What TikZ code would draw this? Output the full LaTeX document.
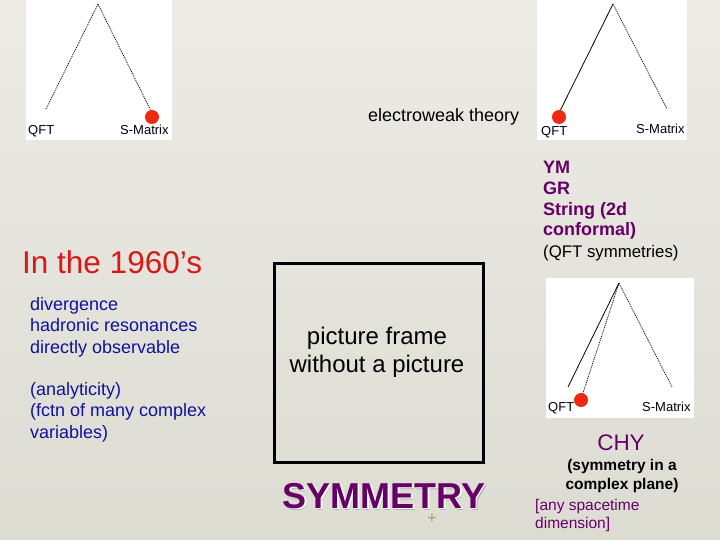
\documentclass[tikz,border=0pt]{standalone}
\usepackage{fontspec}
\setmainfont{Liberation Sans}
\usetikzlibrary{positioning,calc}
\definecolor{Plum}{HTML}{660066}
\definecolor{Navy}{HTML}{11119C}
\definecolor{Title}{HTML}{D81818}
\definecolor{Dot}{HTML}{F02A10}
\definecolor{BgTop}{HTML}{ECECE5}
\definecolor{BgBot}{HTML}{DCDCD3}
\begin{document}
\begin{tikzpicture}[x=1pt,y=-1pt,
    panel/.style={fill=white,draw=none},
    leg/.style={draw=black,line width=0.8pt},
    dotleg/.style={draw=black,line width=0.8pt,dash pattern=on 1pt off 1pt},
    hit/.style={circle,fill=Dot,inner sep=0pt,minimum size=14pt},
    lbl/.style={anchor=base west,inner sep=0pt,font=\fontsize{13}{14}\selectfont},
    txt/.style={anchor=base west,inner sep=0pt,align=left}]
    \useasboundingbox (0,0) rectangle (720,540);
    \shade[top color=BgTop,bottom color=BgBot] (0,0) rectangle (720,540);
    % panel 1: S-Matrix side
    \fill[panel] (26,0) rectangle (172,140);
    \coordinate (p1top) at (98,4);
    \coordinate (p1l) at (46,109);
    \coordinate (p1r) at (152,113);
    \draw[dotleg] (p1l)--(p1top)--(p1r);
    \node[hit] (p1dot) at (152,117) {};
    \node[lbl] (p1qft) at (28,135) {QFT};
    \node[lbl] (p1sm) at (120,135) {S-Matrix};
    % panel 2: QFT side
    \fill[panel] (537,0) rectangle (687,140);
    \coordinate (p2top) at (613,4);
    \coordinate (p2l) at (559,113);
    \coordinate (p2r) at (667,109);
    \draw[leg] (p2l)--(p2top);
    \draw[dotleg] (p2top)--(p2r);
    \node[hit] (p2dot) at (559,117) {};
    \node[lbl] (p2qft) at (541,136) {QFT};
    \node[lbl] (p2sm) at (636,134) {S-Matrix};
    % panel 3: CHY
    \fill[panel] (546,278) rectangle (694,418);
    \coordinate (p3top) at (619,283);
    \coordinate (p3l) at (568,387);
    \coordinate (p3r) at (672,387);
    \coordinate (p3m) at (582,396);
    \draw[leg] (p3l)--(p3top);
    \draw[dotleg] (p3top)--(p3r);
    \draw[dotleg] (p3top)--(p3m);
    \node[hit] (p3dot) at (581,400) {};
    \node[lbl] (p3qft) at (548,411) {QFT};
    \node[lbl] (p3sm) at (642,411) {S-Matrix};
    % empty frame
    \draw[line width=3pt] (274,263) rectangle (483,462);
    \node[align=center,font=\fontsize{24}{28}\selectfont] (frame) at (377,352) {picture frame\\without a picture};
    \node[font=\fontsize{36}{40}\selectfont\bfseries,text=black!30,anchor=base] (symedge) at (386.3,510.3) {SYMMETRY};
    \node[font=\fontsize{36}{40}\selectfont\bfseries,text=white,anchor=base] (symshadow) at (385.5,509.5) {SYMMETRY};
    \node[font=\fontsize{36}{40}\selectfont\bfseries,text=Plum,anchor=base] (sym) at (384,508) {SYMMETRY};
    \node[text=black!35!olive!60,inner sep=0pt,font=\fontsize{16}{16}\selectfont] (plus) at (432,519) {+};
    % texts (base = last line)
    \node[txt,font=\fontsize{18}{20}\selectfont] (ew) at (368,122) {electroweak theory};
    \node[txt,text=Title,font=\fontsize{31.5}{34}\selectfont] (title) at (22,273) {In the 1960’s};
    \node[txt,text=Navy,font=\fontsize{18}{21.2}\selectfont] (old) at (30,353) {divergence\\hadronic resonances\\directly observable};
    \node[txt,text=Navy,font=\fontsize{18}{21.5}\selectfont] (ana) at (30,438) {(analyticity)\\(fctn of many complex\\variables)};
    \node[txt,text=Plum,font=\fontsize{18}{20.8}\selectfont\bfseries] (ym) at (543,236) {YM\\GR\\String (2d\\conformal)};
    \node[txt,font=\fontsize{16.8}{20}\selectfont] (sym2) at (543,257) {(QFT symmetries)};
    \node[text=Plum,anchor=base,inner sep=0pt,font=\fontsize{22.5}{26}\selectfont] (chy) at (621,450) {CHY};
    \node[anchor=base,inner sep=0pt,align=center,font=\fontsize{15.5}{18.5}\selectfont\bfseries] (plane) at (622,489) {(symmetry in a\\complex plane)};
    \node[txt,text=Plum,font=\fontsize{15.5}{17.5}\selectfont] (dim) at (535,528) {[any spacetime\\dimension]};
  \end{tikzpicture}
\end{document}
